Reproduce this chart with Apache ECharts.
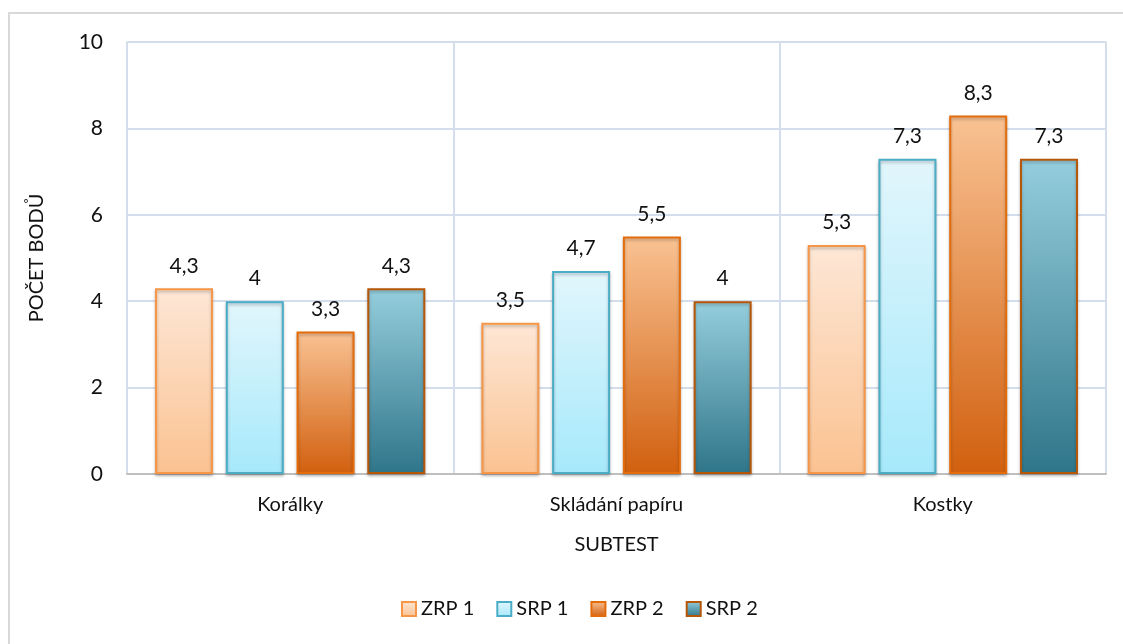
<!DOCTYPE html>
<html>
<head>
<meta charset="utf-8">
<script src="https://cdn.jsdelivr.net/npm/echarts@6/dist/echarts.min.js"></script>
<style>
  html, body { margin: 0; padding: 0; background: #fff; overflow: hidden; }
  #chart { width: 1123px; height: 644px; }
</style>
</head>
<body>
<div id="chart"></div>
<script>
// Subtests on the x axis
const categories = ['Korálky', 'Skládání papíru', 'Kostky'];
// Points per group
const zrp1 = [4.3, 3.5, 5.3];
const srp1 = [4.0, 4.7, 7.3];
const zrp2 = [3.3, 5.5, 8.3];
const srp2 = [4.3, 4.0, 7.3];
const seriesNames = ['ZRP 1', 'SRP 1', 'ZRP 2', 'SRP 2'];

const font = 'Lato, "Open Sans", sans-serif';

function grad(top, bottom) {
  return new echarts.graphic.LinearGradient(0, 0, 0, 1, [
    { offset: 0, color: top },
    { offset: 1, color: bottom }
  ]);
}

const styles = [
  { fill: grad('#FDE7D6', '#FBC291'), border: '#F79646' },
  { fill: grad('#E2F6FC', '#A6E9FB'), border: '#4BACC6' },
  { fill: grad('#F9C293', '#D1600F'), border: '#E46C0A' },
  { fill: grad('#95CEDD', '#2F7589'), border: '#B65708' }
];

function makeSeries(name, data, st) {
  return {
    name: name,
    type: 'bar',
    data: data,
    barWidth: 58,
    barGap: '22%',
    itemStyle: {
      color: st.fill,
      borderColor: st.border,
      borderWidth: 2,
      shadowColor: 'rgba(0,0,0,0.25)',
      shadowBlur: 3,
      shadowOffsetY: 2
    },
    label: {
      show: true,
      position: 'top',
      distance: 12,
      fontFamily: font,
      fontSize: 21,
      color: '#111',
      formatter: p => String(p.value).replace('.', ',')
    }
  };
}

const chart = echarts.init(document.getElementById('chart'));
chart.setOption({
  animation: false,
  backgroundColor: '#fff',
  graphic: [{
    type: 'rect',
    shape: { x: 9, y: 13, width: 1300, height: 800 },
    style: { fill: 'none', stroke: '#D9D9D9', lineWidth: 2 },
    silent: true,
    z: -10
  }],
  grid: { left: 127, top: 42, right: 17, bottom: 170 },
  legend: {
    bottom: 20,
    left: 396,
    itemWidth: 14,
    itemHeight: 14,
    itemGap: 22,
    icon: 'rect',
    textStyle: { fontFamily: font, fontSize: 20, color: '#111' },
    data: seriesNames
  },
  xAxis: {
    type: 'category',
    data: categories,
    name: 'SUBTEST',
    nameLocation: 'middle',
    nameGap: 61,
    nameTextStyle: { fontFamily: font, fontSize: 20, color: '#111' },
    axisLine: { show: true, lineStyle: { color: '#BFBFBF', width: 2 } },
    axisTick: { show: false },
    axisLabel: { fontFamily: font, fontSize: 20, color: '#111', margin: 21 },
    splitLine: { show: true, lineStyle: { color: '#D3DDEB', width: 2 } }
  },
  yAxis: {
    type: 'value',
    min: 0,
    max: 10,
    interval: 2,
    name: 'POČET BODŮ',
    nameLocation: 'middle',
    nameRotate: 90,
    nameGap: 80,
    nameTextStyle: { fontFamily: font, fontSize: 20, color: '#111' },
    axisLine: { show: false },
    axisTick: { show: false },
    axisLabel: { fontFamily: font, fontSize: 21, color: '#111', margin: 24 },
    splitLine: { show: true, lineStyle: { color: '#D3DDEB', width: 2 } }
  },
  series: [
    makeSeries(seriesNames[0], zrp1, styles[0]),
    makeSeries(seriesNames[1], srp1, styles[1]),
    makeSeries(seriesNames[2], zrp2, styles[2]),
    makeSeries(seriesNames[3], srp2, styles[3])
  ]
});
</script>
</body>
</html>
